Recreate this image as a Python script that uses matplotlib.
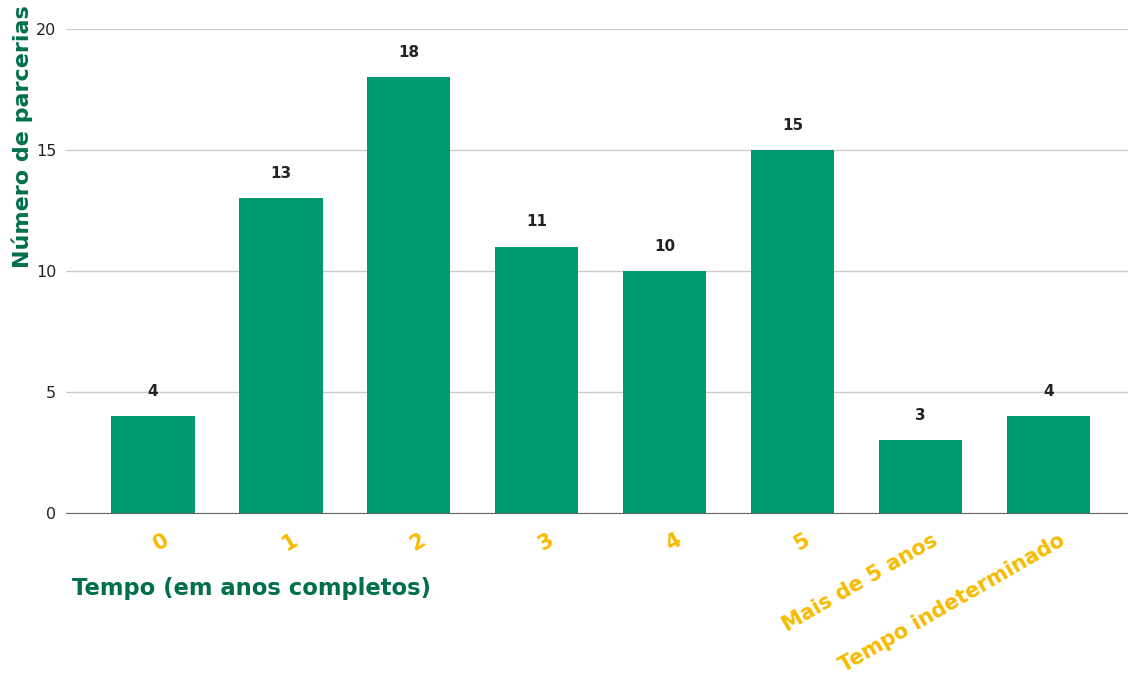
import matplotlib.pyplot as plt
import matplotlib.transforms as mtransforms

# data
categories = ["0", "1", "2", "3", "4", "5", "Mais de 5 anos", "Tempo indeterminado"]
values = [4, 13, 18, 11, 10, 15, 3, 4]

bar_color = "#009970"
title_color = "#00704A"
tick_color = "#F6BB00"

fig = plt.figure(figsize=(11.28, 6.84), dpi=100)
ax = fig.add_axes([0.0585, 0.25, 0.9415, 0.7076])

x = list(range(len(categories)))
ax.bar(x, values, width=0.65, color=bar_color, zorder=3)

for xi, v in zip(x, values):
    ax.annotate(str(v), (xi, v), xytext=(0, 18), textcoords="offset points",
                ha="center", va="center", fontsize=11, fontweight="bold", color="#222222")

ax.set_xlim(-0.68, 7.62)
ax.set_ylim(0, 20)
ax.set_yticks([0, 5, 10, 15, 20])
ax.grid(axis="y", color="#cccccc", linewidth=1, zorder=0)

for s in ["top", "right", "left"]:
    ax.spines[s].set_visible(False)
ax.spines["bottom"].set_color("#666666")
ax.spines["bottom"].set_zorder(4)

ax.tick_params(axis="both", length=0)
ax.tick_params(axis="y", labelsize=11.5, colors="#222222", pad=7)
ax.set_xticks(x)
ax.set_xticklabels(categories, rotation=30, ha="right", rotation_mode="anchor",
                   fontsize=15, fontweight="bold", color=tick_color)
offset = mtransforms.ScaledTranslation(0.10, -0.12, fig.dpi_scale_trans)
for lbl in ax.get_xticklabels():
    lbl.set_transform(lbl.get_transform() + offset)

fig.text(72 / 1128, 1 - 588 / 684, "Tempo (em anos completos)", ha="left", va="center",
         fontsize=16.3, fontweight="bold", color=title_color)
fig.text(22 / 1128, 1 - 137 / 684, "Número de parcerias", ha="center", va="center",
         rotation=90, fontsize=16, fontweight="bold", color=title_color)

fig.savefig("out.png", dpi=100)
